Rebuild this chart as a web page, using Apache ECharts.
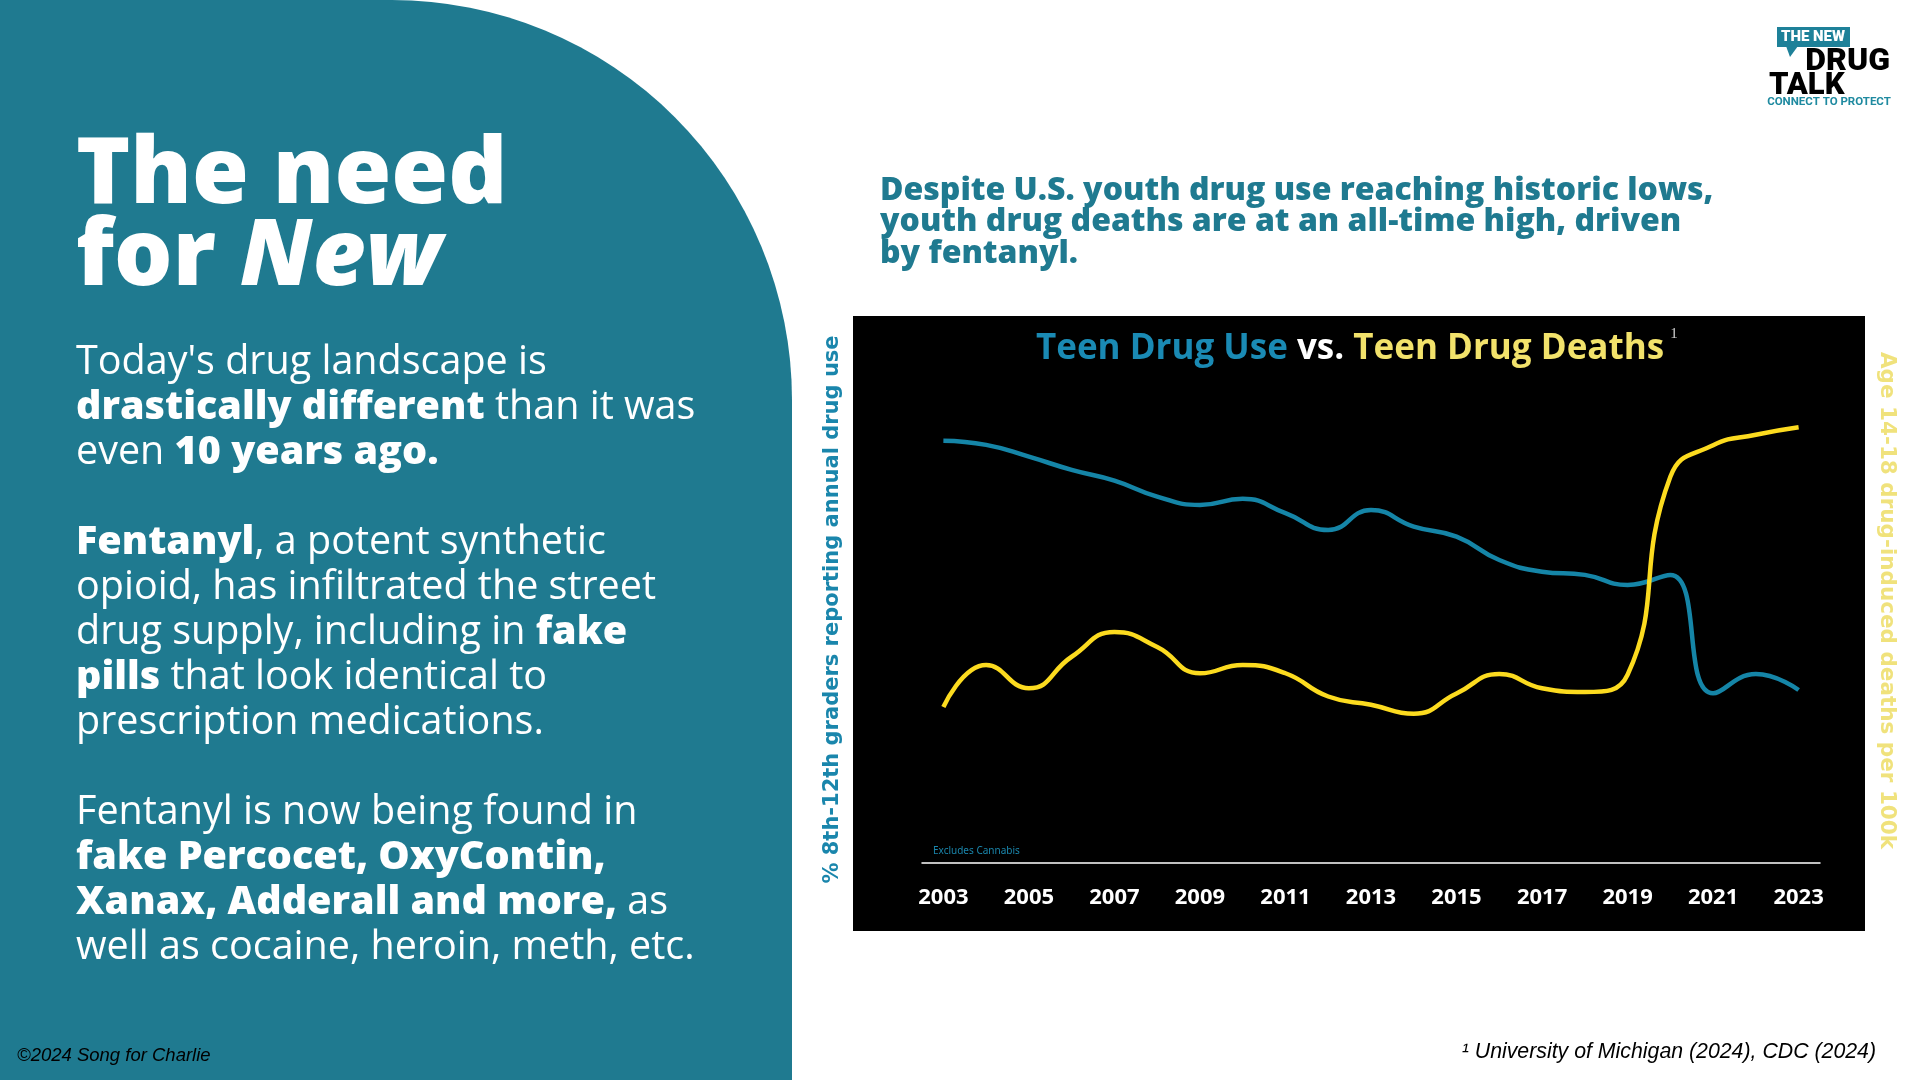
<!DOCTYPE html>
<html>
<head>
<meta charset="utf-8">
<script src="https://cdn.jsdelivr.net/npm/echarts@6/dist/echarts.min.js"></script>
<style>
html,body{margin:0;padding:0;background:#ffffff;}
#c{width:1920px;height:1080px;}
</style>
</head>
<body>
<div id="c"></div>
<script>
// ---- data ----
const years = ['2003','2004','2005','2006','2007','2008','2009','2010','2011','2012','2013',
               '2014','2015','2016','2017','2018','2019','2020','2021','2022','2023'];
// % 8th-12th graders reporting annual drug use (excludes cannabis)
const teenDrugUse = [20.11,19.91,19.35,18.72,18.21,17.45,17.05,17.34,16.66,15.86,16.81,
                     16.02,15.54,14.43,13.87,13.72,13.24,13.72,8.08,9.00,8.24];
// Age 14-18 drug-induced deaths per 100k
const teenDrugDeaths = [2.08,2.64,2.33,2.75,3.08,2.88,2.53,2.64,2.53,2.22,2.11,
                        1.99,2.26,2.52,2.33,2.28,2.51,5.15,5.57,5.71,5.81];
const useAxisRange = [0, 25];
const deathAxisRange = [0, 7];

const leftAxisName = '% 8th-12th graders reporting annual drug use';
const rightAxisName = 'Age 14-18 drug-induced deaths per 100k';
const headingLines = ['Despite U.S. youth drug use reaching historic lows,',
                      'youth drug deaths are at an all-time high, driven',
                      'by fentanyl.'];
const para1 = "{r|Today's drug landscape is}\n{b|drastically different}{r| than it was}\n{r|even }{b|10 years ago.}";
const para2 = "{b|Fentanyl}{r|, a potent synthetic}\n{r|opioid, has infiltrated the street}\n{r|drug supply, including in }{b|fake}\n{b|pills}{r| that look identical to}\n{r|prescription medications.}";
const para3 = "{r|Fentanyl is now being found in}\n{b|fake Percocet, OxyContin,}\n{b|Xanax, Adderall and more,}{r| as}\n{r|well as cocaine, heroin, meth, etc.}";

// ---- styles ----
const TEAL = '#1f7a90';
const BODY = 'Open Sans';
const bodyRich = {
  r: {fontFamily: BODY, fontSize: 39.5, fontWeight: 'normal', fill: '#ffffff', lineHeight: 45},
  b: {fontFamily: BODY, fontSize: 39.5, fontWeight: 800, fill: '#ffffff', lineHeight: 45}
};

const chart = echarts.init(document.getElementById('c'), null, {renderer: 'canvas'});

const graphics = [
  // left teal panel
  {type: 'rect', z: -20, shape: {x: 0, y: 0, width: 792, height: 1080, r: [0, 400, 0, 0]},
   style: {fill: TEAL}},
  // black chart panel
  {type: 'rect', z: -20, shape: {x: 853, y: 316, width: 1012, height: 615},
   style: {fill: '#000000'}},
  // big title
  {type: 'text', x: 76, y: 136, style: {
    text: '{t|The need}\n{t|for }{ti|New}',
    textAlign: 'left', textVerticalAlign: 'top',
    rich: {
      t: {fontFamily: BODY, fontSize: 92, fontWeight: 800, fill: '#ffffff', lineHeight: 82},
      ti: {fontFamily: BODY, fontSize: 92, fontWeight: 800, fontStyle: 'italic', fill: '#ffffff', lineHeight: 82}
    }}},
  {type: 'text', x: 76, y: 340.5, style: {text: para1, rich: bodyRich, textVerticalAlign: 'top'}},
  {type: 'text', x: 76, y: 520.5, style: {text: para2, rich: bodyRich, textVerticalAlign: 'top'}},
  {type: 'text', x: 76, y: 790.5, style: {text: para3, rich: bodyRich, textVerticalAlign: 'top'}},
  // footers
  {type: 'text', x: 17, y: 1056, style: {text: '©2024 Song for Charlie', fontFamily: 'Liberation Sans',
    fontStyle: 'italic', fontSize: 18.5, fill: '#000000', textVerticalAlign: 'middle'}},
  {type: 'text', x: 1876, y: 1052, style: {text: '¹ University of Michigan (2024), CDC (2024)', fontFamily: 'Liberation Sans',
    fontStyle: 'italic', fontSize: 21.3, fill: '#000000', textAlign: 'right', textVerticalAlign: 'middle'}},
  // heading
  {type: 'text', x: 880, y: 175, style: {text: headingLines.join('\n'), fontFamily: BODY, fontWeight: 800,
    fontSize: 32, lineHeight: 31.5, fill: TEAL, textVerticalAlign: 'top'}},
  // chart title
  {type: 'text', x: 1350, y: 349, style: {
    text: '{u|Teen Drug Use }{v|vs. }{d|Teen Drug Deaths}',
    textAlign: 'center', textVerticalAlign: 'middle',
    rich: {
      u: {fontFamily: BODY, fontWeight: 'bold', fontSize: 35, fill: '#1a8ab4'},
      v: {fontFamily: BODY, fontWeight: 'bold', fontSize: 35, fill: '#ffffff'},
      d: {fontFamily: BODY, fontWeight: 'bold', fontSize: 35, fill: '#f2e26b'}
    }}},
  {type: 'text', x: 1674, y: 334, style: {text: '1', fontFamily: 'Liberation Serif', fontSize: 15,
    fill: '#cfcfcf', textAlign: 'center', textVerticalAlign: 'middle'}},
  {type: 'text', x: 933, y: 851, style: {text: 'Excludes Cannabis', fontFamily: 'Noto Sans', fontSize: 10,
    fill: '#1a86ac', textVerticalAlign: 'middle'}},
  // logo
  {type: 'rect', shape: {x: 1777, y: 27, width: 73, height: 20}, style: {fill: '#1e8199'}},
  {type: 'polygon', shape: {points: [[1786, 46], [1798, 46], [1790, 57]]}, style: {fill: '#1e8199'}},
  {type: 'text', x: 1813, y: 37.5, style: {text: 'THE NEW', fontFamily: 'Roboto', fontWeight: 900, fontSize: 15,
    fill: '#ffffff', textAlign: 'center', textVerticalAlign: 'middle'}},
  {type: 'text', x: 1890, y: 62, style: {text: 'DRUG', fontFamily: 'Roboto', fontWeight: 900, fontSize: 32,
    fill: '#000000', textAlign: 'right', textVerticalAlign: 'middle'}},
  {type: 'text', x: 1769, y: 86, style: {text: 'TALK', fontFamily: 'Roboto', fontWeight: 900, fontSize: 31,
    fill: '#000000', textAlign: 'left', textVerticalAlign: 'middle'}},
  {type: 'text', x: 1829, y: 102, style: {text: 'CONNECT TO PROTECT', fontFamily: 'Roboto', fontWeight: 'bold', fontSize: 11.5,
    fill: '#1f8aa0', textAlign: 'center', textVerticalAlign: 'middle'}}
];

const option = {
  backgroundColor: '#ffffff',
  animation: false,
  grid: {left: 922, right: 100, top: 338, bottom: 217, containLabel: false, outerBoundsMode: 'none'},
  xAxis: {
    type: 'category', data: years, boundaryGap: true,
    axisLine: {show: true, lineStyle: {color: '#ffffff', width: 1.5}},
    axisTick: {show: false},
    splitLine: {show: false},
    axisLabel: {interval: 1, color: '#ffffff', fontFamily: 'Noto Sans', fontWeight: 'bold', fontSize: 22, margin: 24}
  },
  yAxis: [
    {type: 'value', min: useAxisRange[0], max: useAxisRange[1], position: 'left',
     axisLine: {show: false}, axisTick: {show: false}, axisLabel: {show: false}, splitLine: {show: false},
     name: leftAxisName, nameLocation: 'middle', nameGap: 79,
     nameTextStyle: {color: '#1a86ac', fontFamily: 'DejaVu Sans', fontWeight: 'bold', fontSize: 21, padding: [0, 18, 0, 0]}},
    {type: 'value', min: deathAxisRange[0], max: deathAxisRange[1], position: 'right',
     axisLine: {show: false}, axisTick: {show: false}, axisLabel: {show: false}, splitLine: {show: false},
     name: rightAxisName, nameLocation: 'middle', nameGap: 56, nameRotate: -90,
     nameTextStyle: {color: '#f0e27c', fontFamily: 'DejaVu Sans', fontWeight: 'bold', fontSize: 21.5}}
  ],
  series: [
    {name: 'Teen Drug Use', type: 'line', yAxisIndex: 0, data: teenDrugUse, smooth: 0.5,
     symbol: 'none', lineStyle: {color: '#1585a7', width: 4.5}, z: 3},
    {name: 'Teen Drug Deaths', type: 'line', yAxisIndex: 1, data: teenDrugDeaths, smooth: 0.5,
     symbol: 'none', lineStyle: {color: '#fcdb1f', width: 4.5}, z: 4}
  ],
  graphic: graphics
};
chart.setOption(option);
</script>
</body>
</html>
